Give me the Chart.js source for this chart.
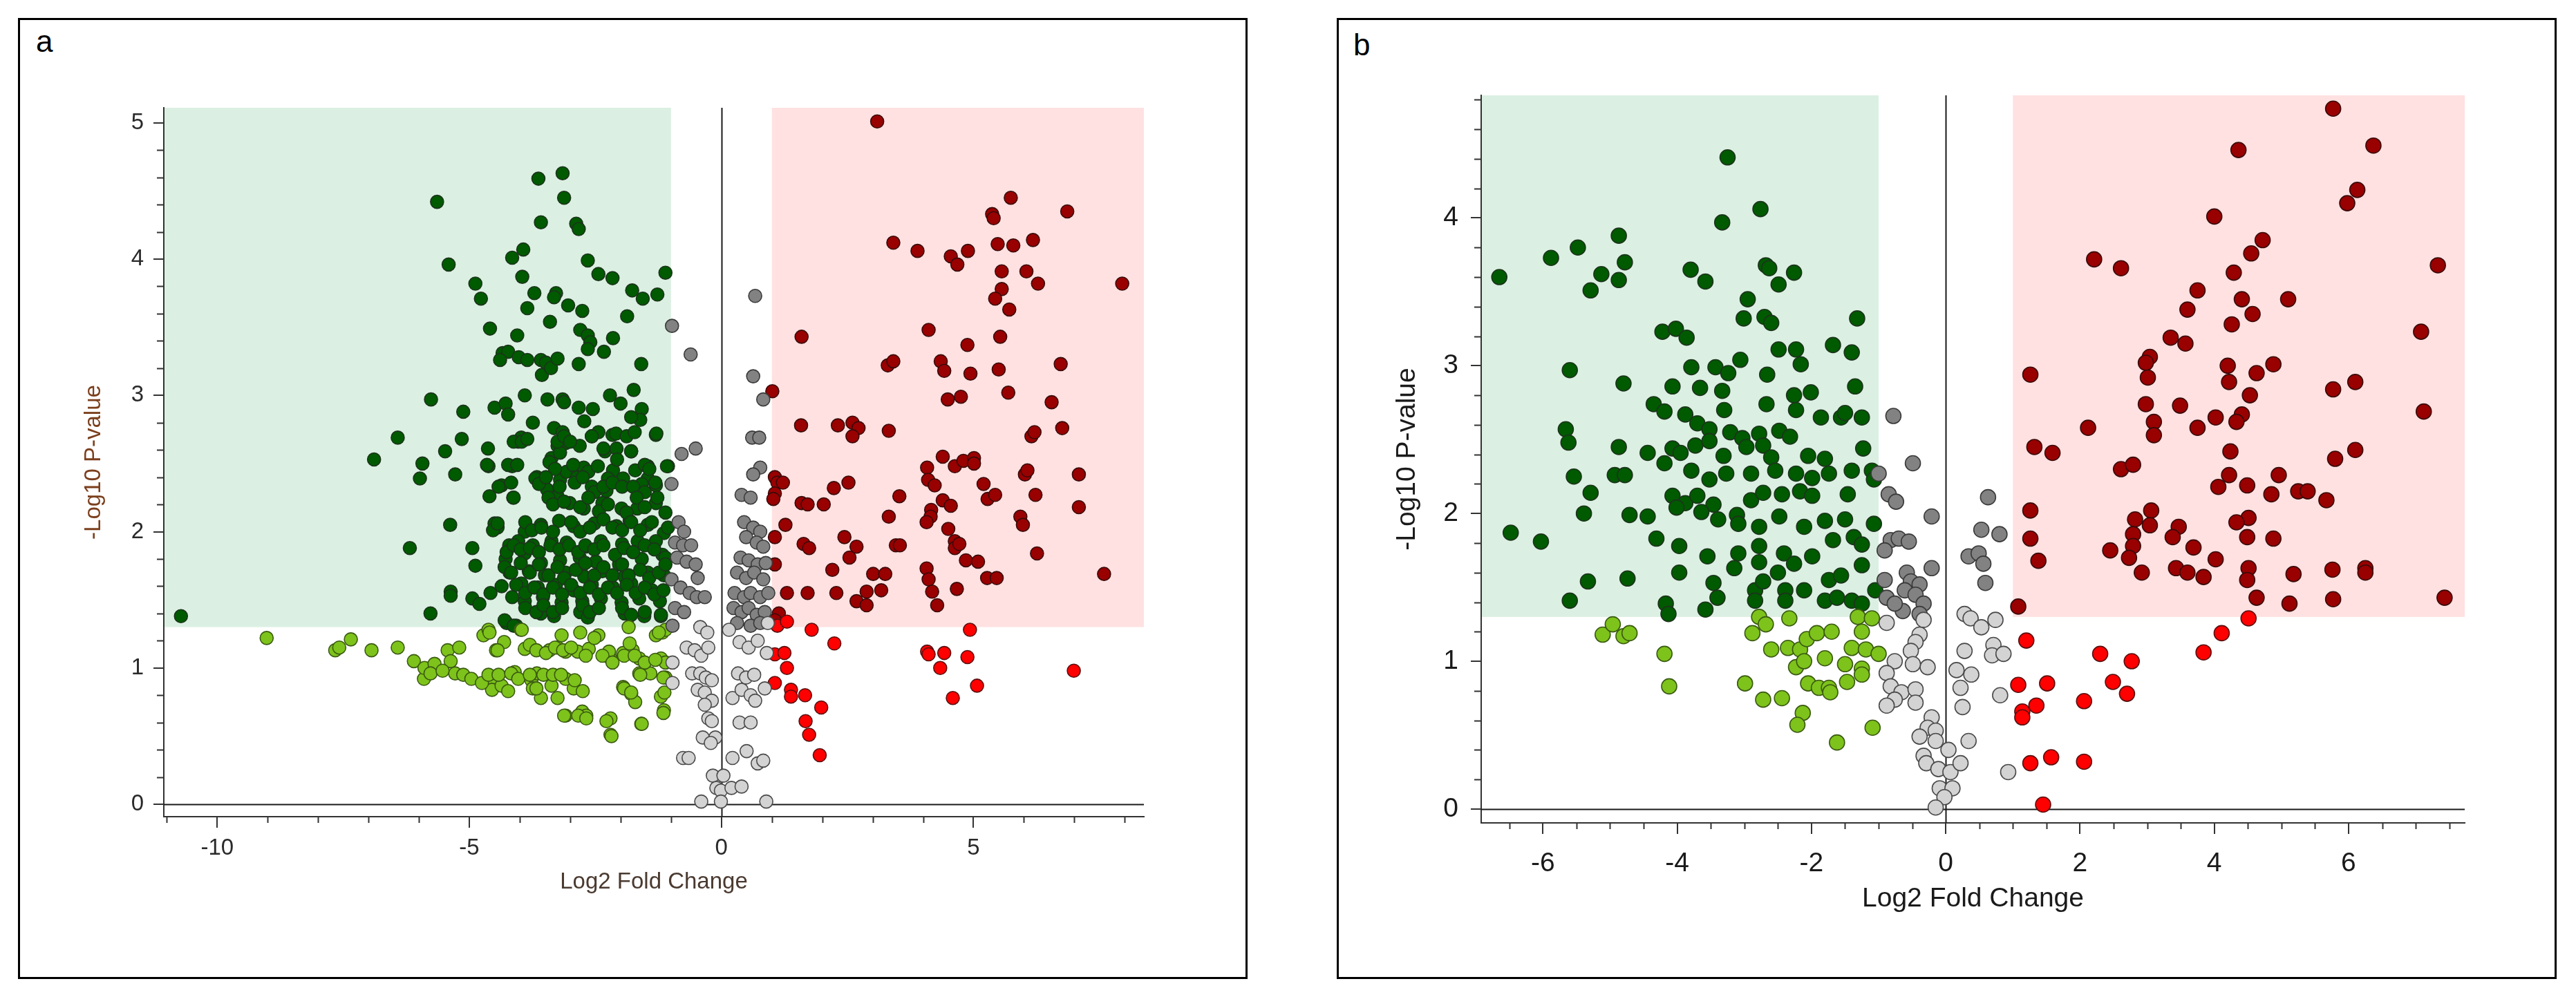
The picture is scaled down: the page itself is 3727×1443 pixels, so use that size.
<!DOCTYPE html>
<html>
<head>
<meta charset="utf-8">
<script src="https://cdn.jsdelivr.net/npm/chart.js@4.4.1/dist/chart.umd.min.js"></script>
<style>
  html, body { margin: 0; padding: 0; background: #fff; }
  body { width: 3727px; height: 1443px; position: relative; overflow: hidden; font-family: "Liberation Sans", Arial, sans-serif; }
  .frame { position: absolute; box-sizing: border-box; border: 3px solid #000; }
  .tag { position: absolute; font-size: 44px; line-height: 1; color: #000; }
  canvas { position: absolute; }
</style>
</head>
<body>
<div class="frame" style="left:26px;top:26px;width:1779px;height:1391px"></div>
<div class="frame" style="left:1934px;top:26px;width:1765px;height:1391px"></div>
<div class="tag" style="left:52px;top:38px">a</div>
<div class="tag" style="left:1958px;top:43px">b</div>
<canvas id="chartA" width="1770" height="1392" style="left:26px;top:26px"></canvas>
<canvas id="chartB" width="1765" height="1391" style="left:1934px;top:26px"></canvas>
<script>
// ---- panel a values [log2FC, -log10 p] ----
const aDarkGreen = [
  [-10.72,1.38],[-5.64,4.42],[-5.41,3.96],[-4.88,3.82],[-4.77,3.71],[-4.59,3.49],[-5.76,2.97],[-6.42,2.69],
  [-6.89,2.53],[-5.93,2.50],[-5.98,2.39],[-5.12,2.88],[-5.48,2.59],[-5.28,2.42],[-5.15,2.68],[-5.38,2.05],
  [-6.18,1.88],[-4.94,1.88],[-4.88,1.75],[-5.37,1.56],[-5.37,1.53],[-4.94,1.51],[-4.80,1.47],[-5.77,1.40],
  [-3.63,4.59],[-3.15,4.63],[-3.12,4.45],[-3.58,4.27],[-2.88,4.26],[-2.83,4.22],[-4.15,4.01],[-3.93,4.07],
  [-3.95,3.87],[-2.65,3.99],[-2.44,3.89],[-2.16,3.86],[-1.11,3.90],[-1.27,3.74],[-1.56,3.71],[-1.77,3.77],
  [-3.71,3.75],[-3.28,3.75],[-3.32,3.72],[-3.85,3.64],[-3.04,3.66],[-2.76,3.62],[-1.87,3.58],[-2.15,3.42],
  [-3.40,3.54],[-4.05,3.44],[-4.34,3.31],[-4.23,3.32],[-2.80,3.48],[-2.65,3.44],[-2.60,3.39],[-2.33,3.32],
  [-2.83,3.23],[-1.59,3.23],[-4.02,3.28],[-3.85,3.26],[-3.58,3.26],[-3.48,3.24],[-3.56,3.15],[-3.38,3.20],
  [-3.25,3.27],[-2.65,3.34],[-4.39,3.26],[-1.74,3.04],[-2.21,3.00],[-2.00,2.94],[-3.90,3.00],[-3.45,2.97],
  [-3.15,2.97],[-3.12,2.95],[-4.50,2.91],[-4.28,2.94],[-4.23,2.86],[-2.83,2.91],[-2.55,2.90],[-1.58,2.90],
  [-1.61,2.82],[-1.79,2.84],[-2.72,2.81],[-3.74,2.80],[-3.32,2.76],[-3.15,2.73],[-2.57,2.70],[-2.44,2.73],
  [-2.16,2.71],[-1.30,2.71],[-4.03,2.66],[-3.97,2.69],[-4.63,2.61],[-4.62,2.48],[-4.15,2.48],[-3.25,2.63],
  [-3.09,2.65],[-2.81,2.63],[-3.37,2.54],[-3.20,2.58],[-2.31,2.59],[-1.79,2.59],[-2.08,2.61],[-1.46,2.48],
  [-1.06,2.48],[-4.60,2.26],[-4.36,2.34],[-4.13,2.25],[-3.66,2.40],[-3.20,2.38],[-3.07,2.44],[-2.86,2.40],
  [-2.73,2.47],[-2.57,2.33],[-2.28,2.30],[-2.15,2.45],[-1.95,2.39],[-1.71,2.45],[-1.46,2.39],[-1.30,2.34],
  [-1.58,2.35],[-3.46,2.31],[-3.25,2.26],[-3.01,2.21],[-2.73,2.17],[-2.36,2.21],[-1.98,2.17],[-1.67,2.17],
  [-1.30,2.21],[-4.50,2.06],[-4.44,2.03],[-3.90,2.00],[-3.58,2.05],[-3.22,2.08],[-2.93,2.04],[-2.52,2.06],
  [-2.08,2.04],[-1.82,2.08],[-1.46,2.05],[-1.14,1.99],[-4.21,1.90],[-4.03,1.93],[-3.74,1.90],[-3.37,1.93],
  [-3.07,1.92],[-2.70,1.89],[-2.39,1.93],[-1.97,1.91],[-1.66,1.93],[-1.30,1.93],[-4.28,1.80],[-3.90,1.84],
  [-3.58,1.77],[-3.20,1.79],[-2.81,1.81],[-2.49,1.78],[-2.03,1.76],[-1.58,1.80],[-1.17,1.83],[-4.20,1.70],
  [-3.82,1.71],[-3.50,1.68],[-3.09,1.70],[-2.72,1.67],[-2.36,1.71],[-1.92,1.67],[-1.46,1.70],[-1.14,1.68],
  [-4.36,1.60],[-3.97,1.62],[-3.64,1.59],[-3.28,1.61],[-2.93,1.57],[-2.57,1.61],[-2.15,1.59],[-1.79,1.62],
  [-1.38,1.57],[-4.15,1.52],[-3.90,1.49],[-3.54,1.52],[-3.17,1.48],[-2.76,1.49],[-2.39,1.51],[-1.98,1.48],
  [-1.63,1.51],[-1.22,1.49],[-4.26,1.33],[-4.07,1.31],[-3.58,1.40],[-3.32,1.38],[-2.80,1.41],[-2.65,1.37],
  [-1.92,1.40],[-1.53,1.38],[-1.20,1.38],
  [-4.12,2.66],[-3.96,2.66],[-3.85,2.68],[-3.25,2.66],[-3.12,2.70],[-3.00,2.66],[-2.57,2.70],[-2.34,2.61],
  [-2.09,2.72],[-1.88,2.70],[-1.72,2.73],[-1.29,2.72],[-4.65,2.49],[-4.23,2.49],[-4.05,2.49],[-3.69,2.39],
  [-3.41,2.51],[-3.30,2.46],[-2.94,2.49],[-2.64,2.44],[-2.45,2.48],[-2.25,2.39],[-2.07,2.53],[-1.79,2.59],
  [-1.52,2.49],[-1.43,2.46],[-1.08,2.48],[-4.42,2.33],[-4.17,2.36],[-3.62,2.35],[-3.48,2.40],[-3.21,2.33],
  [-2.91,2.36],[-2.75,2.40],[-2.52,2.29],[-2.34,2.33],[-2.16,2.36],[-1.97,2.33],[-1.75,2.33],[-1.52,2.29],
  [-1.31,2.36],[-4.12,2.25],[-3.43,2.25],[-3.34,2.20],[-3.12,2.22],[-2.80,2.18],[-2.64,2.25],[-2.43,2.15],
  [-2.25,2.20],[-1.88,2.14],[-1.68,2.25],[-1.52,2.18],[-1.27,2.25],[-1.11,2.14],[-4.53,2.01],[-4.44,2.06],
  [-3.89,2.07],[-3.76,2.01],[-3.57,2.03],[-3.34,2.00],[-2.98,2.07],[-2.80,2.00],[-2.61,2.03],[-2.34,2.09],
  [-2.16,2.03],[-1.97,2.01],[-1.79,2.07],[-1.61,2.01],[-1.38,2.07],[-1.06,2.03],[-4.26,1.85],[-4.12,1.90],
  [-3.98,1.87],[-3.80,1.88],[-3.62,1.85],[-3.39,1.90],[-3.21,1.87],[-3.02,1.90],[-2.84,1.85],[-2.70,1.90],
  [-2.52,1.87],[-2.34,1.90],[-2.11,1.83],[-1.93,1.88],[-1.75,1.85],[-1.52,1.90],[-1.33,1.87],[-1.11,1.81],
  [-4.30,1.74],[-4.17,1.70],[-3.98,1.77],[-3.80,1.70],[-3.62,1.76],[-3.43,1.68],[-3.25,1.74],[-3.12,1.66],
  [-2.89,1.72],[-2.70,1.77],[-2.52,1.68],[-2.34,1.74],[-2.16,1.68],[-1.97,1.76],[-1.84,1.68],[-1.61,1.72],
  [-1.43,1.66],[-1.24,1.70],[-1.11,1.76],[-4.58,1.55],[-4.07,1.61],[-3.89,1.55],[-3.71,1.59],[-3.53,1.54],
  [-3.34,1.59],[-3.16,1.54],[-2.98,1.61],[-2.80,1.55],[-2.61,1.59],[-2.43,1.54],[-2.25,1.59],[-2.07,1.55],
  [-1.88,1.61],[-1.70,1.55],[-1.52,1.59],[-1.33,1.54],[-1.15,1.57],[-3.89,1.44],[-3.67,1.41],[-3.53,1.46],
  [-3.34,1.41],[-3.16,1.44],[-2.75,1.46],[-2.61,1.41],[-2.43,1.44],[-1.97,1.44],[-1.79,1.39],[-1.52,1.41],
  [-1.20,1.39],[-4.30,1.35],[-4.12,1.31]
];
const aLightGreen = [
  [-9.02,1.22],[-7.66,1.13],[-7.58,1.15],[-7.35,1.21],[-6.94,1.13],[-6.42,1.15],[-6.10,1.05],[-5.90,0.92],
  [-5.89,1.00],[-5.69,1.03],[-5.43,1.13],[-5.20,1.15],[-5.37,1.05],[-5.77,0.96],[-5.53,0.98],[-5.28,0.96],
  [-5.12,0.95],[-4.96,0.92],[-4.72,1.24],[-4.62,1.28],[-4.47,1.13],[-4.55,0.91],[-4.55,0.84],[-4.36,0.87],
  [-4.23,0.83],[-4.10,0.97],[-3.98,1.28],[-3.90,1.14],[-3.77,0.91],[-3.74,0.85],[-3.66,0.96],[-3.58,0.78],
  [-3.41,1.13],[-3.25,1.15],[-3.09,1.12],[-3.37,0.87],[-3.09,0.65],[-2.93,0.85],[-2.76,0.68],[-2.68,0.65],
  [-2.85,1.12],[-2.63,1.14],[-2.44,1.24],[-2.20,0.63],[-2.20,0.51],[-2.20,1.07],[-1.95,1.11],[-1.76,1.13],
  [-1.63,1.07],[-1.95,0.86],[-1.79,0.81],[-1.71,0.75],[-1.59,0.59],[-1.63,0.96],[-1.30,1.24],[-1.17,1.26],
  [-1.20,1.07],[-1.11,1.04],[-1.11,0.93],[-1.20,0.79],[-1.14,0.69],[-1.82,1.18],[-1.41,0.96],[-2.23,1.12],
  [-3.17,1.24],[-4.31,1.19],[-4.75,0.89],[-3.09,0.92],
  [-4.60,1.26],[-4.44,1.13],[-3.96,1.28],[-3.80,1.17],[-3.67,1.13],[-3.48,1.11],[-3.30,1.15],[-3.14,1.13],
  [-2.98,1.15],[-2.80,1.26],[-2.69,1.09],[-2.52,1.22],[-2.36,1.09],[-2.16,1.04],[-1.93,1.09],[-1.84,1.30],
  [-1.72,1.09],[-1.52,1.04],[-1.31,1.06],[-1.11,1.28],[-1.24,1.26],[-4.62,0.95],[-4.42,0.95],[-4.17,0.96],
  [-4.03,0.92],[-3.80,0.95],[-3.67,0.85],[-3.53,0.95],[-3.34,0.95],[-3.25,0.78],[-3.18,0.95],[-2.91,0.91],
  [-2.75,0.83],[-1.93,0.85],[-1.79,0.82],[-1.61,0.95],[-1.15,0.93],[-1.13,0.82],[-1.15,0.67],[-3.12,0.65],
  [-2.84,0.65],[-2.68,0.63],[-2.28,0.61],[-2.18,0.50],[-1.58,0.59]
];
const aDarkGrey = [
  [-0.98,3.51],[-0.61,3.30],[0.67,3.73],[0.63,3.14],[0.83,2.97],[-0.79,2.57],[-0.51,2.61],[-0.99,2.35],
  [0.61,2.69],[0.75,2.69],[0.77,2.47],[0.63,2.42],[0.40,2.27],[0.58,2.25],[-0.85,2.07],[-0.74,2.00],
  [-0.92,1.92],[-0.76,1.90],[-0.60,1.90],[-0.88,1.81],[-0.69,1.78],[-0.51,1.76],[-0.47,1.66],[-0.99,1.65],
  [-0.81,1.59],[-0.63,1.55],[-0.49,1.52],[-0.33,1.52],[-0.92,1.44],[-0.74,1.41],[-0.97,1.31],[0.45,2.07],
  [0.63,2.03],[0.77,2.00],[0.49,1.96],[0.70,1.92],[0.83,1.89],[0.38,1.81],[0.54,1.79],[0.72,1.76],
  [0.88,1.77],[0.31,1.70],[0.49,1.66],[0.65,1.70],[0.83,1.65],[0.26,1.55],[0.45,1.52],[0.58,1.55],
  [0.77,1.52],[0.93,1.55],[0.24,1.44],[0.40,1.41],[0.54,1.44],[0.70,1.39],[0.86,1.41],[0.31,1.33],
  [0.58,1.31],[0.77,1.33]
];
const aLightGrey = [
  [-0.42,1.30],[-0.28,1.26],[-0.69,1.15],[-0.53,1.13],[-0.40,1.09],[-0.26,1.15],[-0.97,1.04],[-0.58,0.96],
  [-0.42,0.96],[-0.31,0.93],[-0.19,0.91],[-0.97,0.89],[-0.47,0.84],[-0.33,0.82],[-0.19,0.76],[-0.33,0.73],
  [-0.26,0.63],[-0.19,0.61],[-0.37,0.49],[-0.12,0.49],[-0.21,0.45],[-0.76,0.34],[-0.65,0.34],[-0.17,0.21],
  [0.04,0.21],[-0.10,0.12],[-0.01,0.10],[-0.40,0.02],[-0.01,0.02],[0.20,0.12],[0.40,0.13],[0.22,0.34],
  [0.50,0.39],[0.72,0.30],[0.83,0.32],[0.89,0.02],[0.36,0.60],[0.58,0.60],[0.22,0.78],[0.40,0.84],
  [0.58,0.80],[0.67,0.76],[0.33,0.96],[0.49,0.93],[0.65,0.95],[0.86,0.85],[0.15,1.28],[0.36,1.19],
  [0.54,1.15],[0.72,1.20],[0.90,1.11],[0.92,1.33]
];
const aDarkRed = [
  [3.09,5.01],[5.74,4.45],[6.86,4.35],[5.37,4.33],[5.40,4.30],[3.41,4.12],[3.89,4.06],[4.55,4.02],
  [4.68,3.96],[4.89,4.06],[5.48,4.11],[5.79,4.10],[6.18,4.14],[5.56,3.91],[6.05,3.91],[6.28,3.82],
  [7.95,3.82],[5.56,3.78],[5.43,3.71],[5.71,3.63],[4.11,3.48],[5.53,3.43],[4.88,3.37],[1.59,3.43],
  [3.30,3.22],[3.41,3.25],[4.35,3.25],[4.42,3.18],[4.94,3.16],[5.50,3.19],[6.73,3.23],[4.49,2.97],
  [4.75,2.99],[5.69,3.02],[6.55,2.95],[1.01,3.03],[1.58,2.78],[2.31,2.78],[2.60,2.80],[2.72,2.76],
  [2.60,2.70],[3.32,2.74],[6.76,2.76],[6.15,2.70],[6.21,2.73],[4.39,2.55],[4.08,2.47],[4.63,2.48],
  [4.80,2.52],[5.01,2.54],[5.01,2.50],[6.02,2.42],[6.07,2.45],[7.09,2.42],[1.06,2.40],[1.11,2.36],
  [1.22,2.36],[1.06,2.28],[1.03,2.24],[2.23,2.32],[2.52,2.36],[3.53,2.26],[4.10,2.38],[4.23,2.34],
  [4.39,2.23],[4.55,2.19],[5.20,2.35],[5.28,2.24],[5.43,2.27],[6.23,2.27],[7.09,2.18],[1.59,2.21],
  [1.71,2.20],[2.03,2.20],[1.27,2.05],[3.32,2.11],[4.16,2.16],[4.15,2.11],[5.93,2.11],[5.98,2.05],
  [4.07,2.07],[4.50,2.02],[2.44,1.96],[2.68,1.89],[3.46,1.90],[3.54,1.90],[1.63,1.91],[1.74,1.88],
  [4.63,1.93],[4.63,1.88],[4.72,1.91],[4.85,1.79],[5.09,1.78],[6.26,1.84],[2.54,1.81],[2.20,1.72],
  [3.01,1.69],[3.25,1.69],[4.07,1.73],[4.11,1.65],[5.27,1.66],[5.46,1.66],[7.59,1.69],[1.30,1.55],
  [1.71,1.55],[2.28,1.55],[2.88,1.56],[3.17,1.57],[4.18,1.56],[4.67,1.58],[2.68,1.49],[2.88,1.46],
  [4.28,1.46],[1.06,1.96],[1.06,1.76],[1.14,1.40],[1.06,1.35]
];
const aRed = [
  [1.11,1.31],[1.30,1.34],[1.79,1.28],[2.24,1.18],[1.06,1.10],[1.25,1.11],[1.30,1.00],[1.06,0.89],
  [1.38,0.84],[1.38,0.79],[1.66,0.80],[1.98,0.71],[1.67,0.61],[1.74,0.51],[1.95,0.36],[4.93,1.28],
  [4.08,1.12],[4.11,1.10],[4.42,1.11],[4.34,1.00],[4.88,1.08],[5.07,0.87],[4.59,0.78],[6.99,0.98]
];

// ---- panel b values [log2FC, -log10 p] ----
const bDarkGreen = [
  [-6.65,3.60],[-6.48,1.87],[-6.03,1.81],[-5.88,3.73],[-5.48,3.80],[-5.13,3.62],[-5.29,3.51],[-4.87,3.88],
  [-4.78,3.70],[-4.87,3.58],[-5.60,2.97],[-4.80,2.88],[-5.66,2.57],[-5.62,2.48],[-5.54,2.25],[-5.29,2.14],
  [-5.39,2.00],[-4.87,2.45],[-4.93,2.26],[-4.78,2.26],[-4.71,1.99],[-4.44,1.98],[-4.31,1.83],[-5.33,1.54],
  [-5.60,1.41],[-4.74,1.56],[-4.17,1.39],[-4.13,1.32],[-3.25,4.41],[-2.76,4.06],[-3.33,3.97],[-3.80,3.65],
  [-3.58,3.57],[-2.68,3.68],[-2.63,3.66],[-2.26,3.63],[-2.49,3.55],[-2.95,3.45],[-3.01,3.32],[-2.70,3.33],
  [-2.60,3.29],[-1.32,3.32],[-4.22,3.23],[-4.02,3.25],[-3.86,3.19],[-1.68,3.14],[-2.49,3.11],[-2.23,3.11],
  [-1.40,3.09],[-3.06,3.04],[-2.16,3.01],[-3.79,2.99],[-3.43,2.99],[-3.24,2.95],[-2.66,2.94],[-4.07,2.86],
  [-3.66,2.85],[-3.33,2.83],[-2.26,2.80],[-2.01,2.82],[-1.35,2.86],[-4.35,2.74],[-4.19,2.69],[-3.88,2.67],
  [-3.30,2.70],[-2.67,2.74],[-2.23,2.70],[-1.86,2.65],[-1.56,2.65],[-1.25,2.65],[-1.50,2.68],[-3.70,2.61],
  [-3.52,2.57],[-3.21,2.55],[-3.03,2.51],[-2.78,2.54],[-2.48,2.56],[-2.32,2.52],[-4.44,2.41],[-4.19,2.34],
  [-4.07,2.44],[-3.95,2.41],[-3.73,2.46],[-3.52,2.49],[-3.31,2.39],[-2.97,2.45],[-2.72,2.46],[-2.60,2.38],
  [-2.05,2.39],[-1.80,2.37],[-1.23,2.44],[-3.79,2.29],[-3.52,2.23],[-3.27,2.27],[-2.90,2.27],[-2.54,2.29],
  [-2.23,2.27],[-1.99,2.24],[-1.74,2.27],[-1.40,2.29],[-1.10,2.29],[-1.07,2.23],[-4.07,2.12],[-3.88,2.07],
  [-3.70,2.12],[-3.46,2.06],[-3.11,1.99],[-2.90,2.09],[-2.72,2.14],[-2.44,2.13],[-2.17,2.15],[-1.99,2.12],
  [-1.46,2.13],[-4.01,2.04],[-3.64,2.01],[-3.39,1.96],[-3.09,1.93],[-2.78,1.91],[-2.48,1.98],[-2.11,1.91],
  [-1.80,1.95],[-1.50,1.96],[-1.07,1.93],[-3.97,1.78],[-3.55,1.71],[-3.09,1.73],[-2.78,1.78],[-2.41,1.73],
  [-1.99,1.71],[-1.68,1.82],[-1.37,1.84],[-1.25,1.79],[-3.97,1.60],[-3.46,1.53],[-3.15,1.63],[-2.78,1.67],
  [-2.50,1.60],[-2.26,1.66],[-1.74,1.55],[-1.56,1.58],[-1.25,1.65],[-3.58,1.35],[-3.40,1.43],[-2.84,1.48],
  [-2.72,1.54],[-2.39,1.48],[-2.39,1.41],[-2.11,1.48],[-1.80,1.41],[-1.62,1.43],[-1.40,1.41],[-1.25,1.39],
  [-1.05,1.48],[-2.84,1.41]
];
const bLightGreen = [
  [-5.11,1.18],[-4.96,1.25],[-4.80,1.17],[-4.71,1.19],[-4.19,1.05],[-4.12,0.83],[-2.78,1.30],[-2.88,1.19],
  [-2.68,1.25],[-2.33,1.29],[-2.60,1.08],[-2.35,1.09],[-2.17,1.08],[-2.07,1.15],[-1.92,1.19],[-1.70,1.20],
  [-2.23,0.96],[-2.11,1.00],[-1.80,1.02],[-1.50,0.98],[-1.25,0.95],[-1.40,1.09],[-1.19,1.08],[-1.00,1.05],
  [-1.25,1.20],[-1.31,1.30],[-1.10,1.29],[-2.99,0.85],[-2.72,0.74],[-2.44,0.75],[-2.05,0.85],[-1.89,0.82],
  [-1.74,0.82],[-1.72,0.79],[-1.47,0.86],[-1.25,0.91],[-2.13,0.65],[-2.21,0.57],[-1.62,0.45],[-1.09,0.55]
];
const bDarkGrey = [
  [-0.78,2.66],[-0.49,2.34],[-1.00,2.27],[-0.85,2.13],[-0.74,2.08],[0.63,2.11],[-0.21,1.98],[-0.82,1.82],
  [-0.70,1.83],[-0.55,1.81],[-0.91,1.75],[0.53,1.89],[0.80,1.86],[0.34,1.71],[0.49,1.73],[0.56,1.66],
  [0.59,1.53],[-0.58,1.60],[-0.52,1.54],[-0.39,1.52],[-0.21,1.63],[-0.91,1.55],[-0.61,1.48],[-0.45,1.45],
  [-0.33,1.39],[-0.88,1.43],[-0.64,1.34],[-0.76,1.39],[-0.39,1.32]
];
const bLightGrey = [
  [-0.88,1.26],[-0.33,1.28],[-0.39,1.18],[-0.45,1.13],[-0.52,1.07],[-0.76,1.00],[-0.27,0.96],[-0.49,0.98],
  [-0.88,0.92],[-0.82,0.83],[-0.66,0.79],[-0.76,0.74],[-0.45,0.81],[-0.45,0.72],[-0.88,0.70],[-0.21,0.62],
  [-0.27,0.55],[-0.15,0.53],[-0.39,0.49],[-0.15,0.46],[-0.33,0.36],[-0.29,0.31],[-0.11,0.27],[0.07,0.25],
  [-0.09,0.14],[0.10,0.14],[-0.02,0.08],[-0.15,0.01],[0.22,0.31],[0.34,0.46],[0.25,0.69],[0.22,0.82],
  [0.16,0.94],[0.38,0.91],[0.28,1.07],[0.28,1.32],[0.37,1.29],[0.53,1.23],[0.74,1.28],[0.71,1.11],
  [0.69,1.04],[0.86,1.05],[0.81,0.77],[0.93,0.25],[0.04,0.40]
];
const bDarkRed = [
  [5.77,4.74],[4.36,4.46],[6.37,4.49],[6.13,4.19],[5.98,4.10],[4.00,4.01],[4.72,3.85],[4.55,3.76],
  [2.21,3.72],[2.61,3.66],[7.33,3.68],[4.29,3.63],[3.75,3.51],[4.41,3.45],[5.10,3.45],[3.60,3.38],
  [4.57,3.35],[4.26,3.28],[7.08,3.23],[3.35,3.19],[3.57,3.15],[3.04,3.06],[2.98,3.02],[4.20,3.00],
  [4.88,3.01],[4.63,2.95],[1.26,2.94],[3.01,2.92],[4.22,2.89],[6.10,2.89],[5.77,2.84],[4.53,2.80],
  [2.98,2.74],[3.49,2.73],[4.41,2.67],[4.33,2.62],[3.10,2.62],[4.02,2.65],[7.12,2.69],[2.12,2.58],
  [3.75,2.58],[3.10,2.53],[1.32,2.45],[1.59,2.41],[4.24,2.42],[6.10,2.43],[5.80,2.37],[2.61,2.30],
  [2.79,2.33],[4.22,2.26],[4.96,2.26],[4.06,2.18],[4.49,2.19],[4.85,2.13],[5.25,2.15],[5.39,2.15],
  [5.67,2.09],[1.26,2.02],[3.06,2.02],[4.51,1.97],[2.82,1.96],[3.04,1.92],[3.47,1.91],[4.33,1.94],
  [2.79,1.86],[3.38,1.84],[4.49,1.84],[4.88,1.83],[1.26,1.83],[2.45,1.75],[2.79,1.78],[2.73,1.70],
  [3.69,1.77],[4.02,1.69],[1.38,1.68],[3.43,1.63],[3.60,1.60],[2.92,1.60],[3.84,1.57],[4.51,1.63],
  [4.49,1.55],[5.18,1.59],[5.76,1.62],[6.25,1.63],[6.25,1.60],[4.63,1.43],[5.12,1.39],[5.77,1.42],
  [7.43,1.43],[1.08,1.37]
];
const bRed = [
  [1.20,1.14],[4.51,1.29],[4.11,1.19],[3.84,1.06],[2.30,1.05],[2.77,1.00],[2.49,0.86],[2.70,0.78],
  [1.08,0.84],[1.51,0.85],[1.14,0.66],[1.14,0.62],[1.35,0.70],[2.06,0.73],[1.26,0.31],[1.57,0.35],
  [2.06,0.32],[1.45,0.03]
];

const FONT = '"Liberation Sans", Arial, sans-serif';

// shaded significance boxes, zero lines and minor ticks
const volcanoDecor = {
  id: 'volcanoDecor',
  beforeDraw(chart, args, o) {
    const {ctx, chartArea: a, scales: {x, y}} = chart;
    const yc = y.getPixelForValue(o.cut);
    const xl = x.getPixelForValue(-o.fc);
    const xr = x.getPixelForValue(o.fc);
    ctx.save();
    ctx.fillStyle = '#dbf0e2';
    ctx.fillRect(a.left, a.top, xl - a.left, yc - a.top);
    ctx.fillStyle = '#ffe1e1';
    ctx.fillRect(xr, a.top, a.right - xr, yc - a.top);
    ctx.restore();
  },
  beforeDatasetsDraw(chart) {
    const {ctx, chartArea: a, scales: {x, y}} = chart;
    const x0 = Math.round(x.getPixelForValue(0)) + 0.5;
    const y0 = Math.round(y.getPixelForValue(0)) + 0.5;
    ctx.save();
    ctx.strokeStyle = '#1a1a1a';
    ctx.lineWidth = 2;
    ctx.beginPath();
    ctx.moveTo(x0, a.top); ctx.lineTo(x0, a.bottom);
    ctx.moveTo(a.left, y0); ctx.lineTo(a.right, y0);
    ctx.stroke();
    ctx.restore();
  },
  afterDraw(chart, args, o) {
    const {ctx, chartArea: a, scales: {x, y}} = chart;
    ctx.save();
    ctx.strokeStyle = '#333';
    ctx.lineWidth = 2;
    ctx.beginPath();
    for (let i = Math.ceil(x.min / o.xMinor); i * o.xMinor <= x.max; i++) {
      const v = i * o.xMinor;
      if (Math.abs(v / o.xMajor - Math.round(v / o.xMajor)) < 1e-6) continue;
      const px = Math.round(x.getPixelForValue(v)) + 0.5;
      ctx.moveTo(px, a.bottom); ctx.lineTo(px, a.bottom + 9);
    }
    for (let i = Math.ceil(y.min / 0.2); i * 0.2 <= y.max + 1e-9; i++) {
      if (i % 5 === 0) continue;
      const py = Math.round(y.getPixelForValue(i * 0.2)) + 0.5;
      ctx.moveTo(a.left - 10, py); ctx.lineTo(a.left, py);
    }
    ctx.stroke();
    ctx.restore();
  }
};

function pts(list) {
  return list.map(p => ({x: p[0], y: p[1]}));
}

function volcano(id, p) {
  const ds = (data, fill, edge) => ({
    data: pts(data), backgroundColor: fill, borderColor: edge, borderWidth: 1.6,
    pointRadius: p.r, pointHoverRadius: p.r
  });
  return new Chart(document.getElementById(id), {
    type: 'scatter',
    data: {
      datasets: [
        ds(p.lightGrey, '#d3d3d3', '#4a4a4a'),
        ds(p.darkGrey, '#828282', '#3a3a3a'),
        ds(p.lightGreen, '#7dc31b', '#3b5a12'),
        ds(p.darkGreen, '#005a00', '#1c341c'),
        ds(p.red, '#ff0000', '#5a1010'),
        ds(p.darkRed, '#990000', '#3a0a0a')
      ]
    },
    options: {
      responsive: false,
      animation: false,
      devicePixelRatio: 1,
      layout: {padding: p.pad},
      plugins: {
        legend: {display: false},
        tooltip: {enabled: false},
        volcanoDecor: {cut: 1.3, fc: 1, xMinor: p.xMinor, xMajor: p.xStep}
      },
      scales: {
        x: {
          type: 'linear', min: p.xMin, max: p.xMax,
          afterFit: s => { s.height = p.xAxisH; },
          border: {display: true, color: '#333', width: 2},
          grid: {drawOnChartArea: false, drawTicks: true, tickLength: 16, color: '#333', lineWidth: 2},
          ticks: {stepSize: p.xStep, includeBounds: false, padding: p.xPad, color: p.tickColor,
                  font: {family: FONT, size: p.font}, maxRotation: 0},
          title: {display: true, text: 'Log2 Fold Change', color: p.xTitleColor,
                  font: {family: FONT, size: p.font}}
        },
        y: {
          type: 'linear', min: p.yMin, max: p.yMax,
          afterFit: s => { s.width = p.yAxisW; },
          border: {display: true, color: '#333', width: 2},
          grid: {drawOnChartArea: false, drawTicks: true, tickLength: 15, color: '#333', lineWidth: 2},
          ticks: {stepSize: 1, includeBounds: false, padding: p.yPad, color: p.tickColor,
                  font: {family: FONT, size: p.font}},
          title: {display: true, text: '-Log10 P-value', color: p.yTitleColor,
                  font: {family: FONT, size: p.font}}
        }
      }
    },
    plugins: [volcanoDecor]
  });
}

volcano('chartA', {
  darkGreen: aDarkGreen, lightGreen: aLightGreen, darkGrey: aDarkGrey, lightGrey: aLightGrey,
  darkRed: aDarkRed, red: aRed,
  xMin: -11.06, xMax: 8.38, yMin: -0.091, yMax: 5.11, xStep: 5, xMinor: 1,
  r: 9.5, font: 33, pad: {left: 86, top: 130, right: 141, bottom: 117},
  xAxisH: 119, yAxisW: 125, xPad: 10, yPad: 14,
  tickColor: '#2a2a2a', xTitleColor: '#4a3a30', yTitleColor: '#7b3f1d'
});

volcano('chartB', {
  darkGreen: bDarkGreen, lightGreen: bLightGreen, darkGrey: bDarkGrey, lightGrey: bLightGrey,
  darkRed: bDarkRed, red: bRed,
  xMin: -6.92, xMax: 7.73, yMin: -0.094, yMax: 4.83, xStep: 2, xMinor: 0.5,
  r: 11, font: 39, pad: {left: 75, top: 112, right: 133, bottom: 88},
  xAxisH: 138, yAxisW: 134, xPad: 20, yPad: 18,
  tickColor: '#1a1a1a', xTitleColor: '#1a1a1a', yTitleColor: '#1a1a1a'
});
</script>
</body>
</html>
